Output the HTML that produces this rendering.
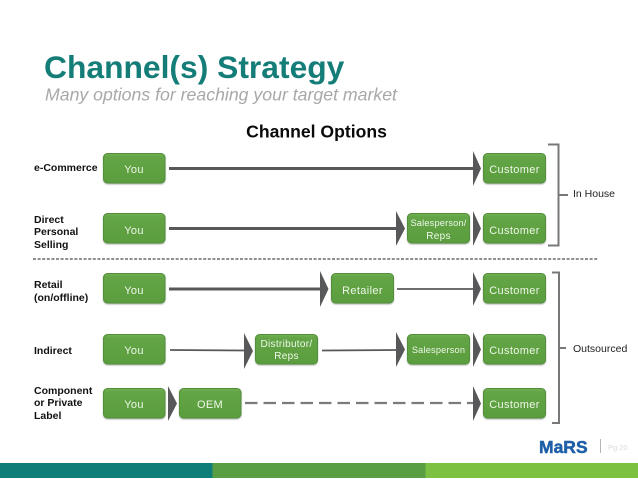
<!DOCTYPE html>
<html><head><meta charset="utf-8"><style>
html,body{margin:0;padding:0;background:#fff;width:638px;height:479px;overflow:hidden}
svg{display:block}
.b{fill:url(#g);stroke:#518f3a;stroke-width:1;filter:url(#s)}
.t{font-family:"Liberation Sans",sans-serif;font-size:11px;letter-spacing:.35px;fill:#eff7ea;text-anchor:middle}
.m{font-size:10px;letter-spacing:.3px}
.n{font-size:9.2px;letter-spacing:.2px}
.l{font-family:"Liberation Sans",sans-serif;font-size:10.5px;font-weight:bold;fill:#111}
.h{fill:#58585a}
.r{font-family:"Liberation Sans",sans-serif;font-size:10.5px;fill:#222}
</style></head><body>
<svg width="638" height="479" viewBox="0 0 638 479" xmlns="http://www.w3.org/2000/svg">
<defs>
<linearGradient id="g" x1="0" y1="0" x2="0" y2="1"><stop offset="0" stop-color="#74b055"/><stop offset=".12" stop-color="#63a546"/><stop offset="1" stop-color="#5a9d3e"/></linearGradient>
<filter id="s" x="-10%" y="-10%" width="120%" height="130%"><feDropShadow dx="0" dy="1" stdDeviation="0.8" flood-color="#000" flood-opacity=".3"/></filter>
</defs>
<rect width="638" height="479" fill="#fff"/>
<text x="44" y="78" font-family="Liberation Sans,sans-serif" font-size="31.8" font-weight="bold" fill="#147d78">Channel(s) Strategy</text>
<text x="45" y="100.500" font-family="Liberation Sans,sans-serif" font-size="17.700" font-style="italic" fill="#a8a8a8">Many options for reaching your target market</text>
<text x="316.500" y="137.500" font-family="Liberation Sans,sans-serif" font-size="17.600" font-weight="bold" fill="#0a0a0a" text-anchor="middle">Channel Options</text>

<text class="l" x="34" y="171">e-Commerce</text>
<text class="l" x="34" y="223">Direct</text><text class="l" x="34" y="235">Personal</text><text class="l" x="34" y="248">Selling</text>
<text class="l" x="34" y="288">Retail</text><text class="l" x="34" y="301">(on/offline)</text>
<text class="l" x="34" y="354">Indirect</text>
<text class="l" x="34" y="394">Component</text><text class="l" x="34" y="406">or Private</text><text class="l" x="34" y="419">Label</text>

<line x1="33" y1="259" x2="598" y2="259" stroke="#222" stroke-width="1" stroke-dasharray="3 1.6"/>

<g stroke="#58585a" fill="none">
<line x1="169" y1="168.500" x2="474" y2="168.500" stroke-width="3"/>
<line x1="169" y1="228.500" x2="397" y2="228.500" stroke-width="3"/>
<line x1="169" y1="289" x2="321" y2="289" stroke-width="3"/>
<line x1="397" y1="289" x2="474" y2="289" stroke-width="1.700"/>
<line x1="170" y1="350" x2="245" y2="350.500" stroke-width="1.700"/>
<line x1="322" y1="350.500" x2="397" y2="350" stroke-width="1.700"/>
<line x1="245" y1="403" x2="474" y2="403" stroke-width="2.200" stroke-dasharray="12.500 6" stroke="#7b7b7d"/>
<path d="M548 144.500H558.500V245.500H548M559 195H568" stroke="#77787a" stroke-width="2"/>
<path d="M552 272.500H559V423H552M559 348H566" stroke="#77787a" stroke-width="2"/>
</g>

<path class="h" d="M473 151L481 168.500L473 186Z"/>
<path class="h" d="M396 211L405 228.500L396 246Z"/>
<path class="h" d="M473 211L481 228.500L473 246Z"/>
<path class="h" d="M320 271L328.500 289L320 307Z"/>
<path class="h" d="M473 272L481 289L473 306Z"/>
<path class="h" d="M244 333L253 351L244 369Z"/>
<path class="h" d="M396 332L405 349.500L396 367Z"/>
<path class="h" d="M473 332L481 349.500L473 367Z"/>
<path class="h" d="M168 386L177 403.500L168 421Z"/>
<path class="h" d="M473 386L481 403.500L473 421Z"/>

<rect class="b" x="103.500" y="153.500" width="61.500" height="29.500" rx="4"/>
<rect class="b" x="103.500" y="213.500" width="61.500" height="29.500" rx="4"/>
<rect class="b" x="103.500" y="273.500" width="61.500" height="29.500" rx="4"/>
<rect class="b" x="103.500" y="334.500" width="61.500" height="29.500" rx="4"/>
<rect class="b" x="103.500" y="388.500" width="61.500" height="29.500" rx="4"/>
<rect class="b" x="483.500" y="153.500" width="62" height="29.500" rx="4"/>
<rect class="b" x="483.500" y="213.500" width="62" height="29.500" rx="4"/>
<rect class="b" x="483.500" y="273.500" width="62" height="29.500" rx="4"/>
<rect class="b" x="483.500" y="334.500" width="62" height="29.500" rx="4"/>
<rect class="b" x="483.500" y="388.500" width="62" height="29.500" rx="4"/>
<rect class="b" x="407.500" y="213.500" width="62" height="29.500" rx="4"/>
<rect class="b" x="407.500" y="334.500" width="62" height="29.500" rx="4"/>
<rect class="b" x="331.500" y="273.500" width="62" height="29.500" rx="4"/>
<rect class="b" x="255.500" y="334.500" width="62" height="29.500" rx="4"/>
<rect class="b" x="179.500" y="388.500" width="61.500" height="29.500" rx="4"/>

<text class="t" x="134" y="173">You</text>
<text class="t" x="134" y="234">You</text>
<text class="t" x="134" y="294">You</text>
<text class="t" x="134" y="354">You</text>
<text class="t" x="134" y="408">You</text>
<text class="t" x="210" y="408">OEM</text>
<text class="t" x="514.500" y="173">Customer</text>
<text class="t" x="514.500" y="234">Customer</text>
<text class="t" x="514.500" y="294">Customer</text>
<text class="t" x="514.500" y="354">Customer</text>
<text class="t" x="514.500" y="408">Customer</text>
<text class="t" x="362.500" y="294">Retailer</text>
<text class="t n" x="438.500" y="226">Salesperson/</text>
<text class="t m" x="438.500" y="239">Reps</text>
<text class="t n" x="438.500" y="353">Salesperson</text>
<text class="t m" x="286.500" y="347">Distributor/</text>
<text class="t m" x="286.500" y="359">Reps</text>

<text class="r" x="573" y="197">In House</text>
<text class="r" x="573" y="352">Outsourced</text>

<text x="539" y="453" font-family="Liberation Sans,sans-serif" font-size="17.500" font-weight="bold" fill="#1f5fa8" stroke="#1f5fa8" stroke-width=".5">MaRS</text>
<line x1="600.500" y1="439" x2="600.500" y2="453" stroke="#b5b5b5" stroke-width="1"/>
<text x="608" y="450" font-family="Liberation Sans,sans-serif" font-size="7.500" fill="#dadada">Pg 20</text>

<rect x="0" y="463" width="212.500" height="15" fill="#0f7d78"/>
<rect x="212.500" y="463" width="213" height="15" fill="#5a9e43"/>
<rect x="425.500" y="463" width="212.500" height="15" fill="#7cc142"/>
</svg>
</body></html>
